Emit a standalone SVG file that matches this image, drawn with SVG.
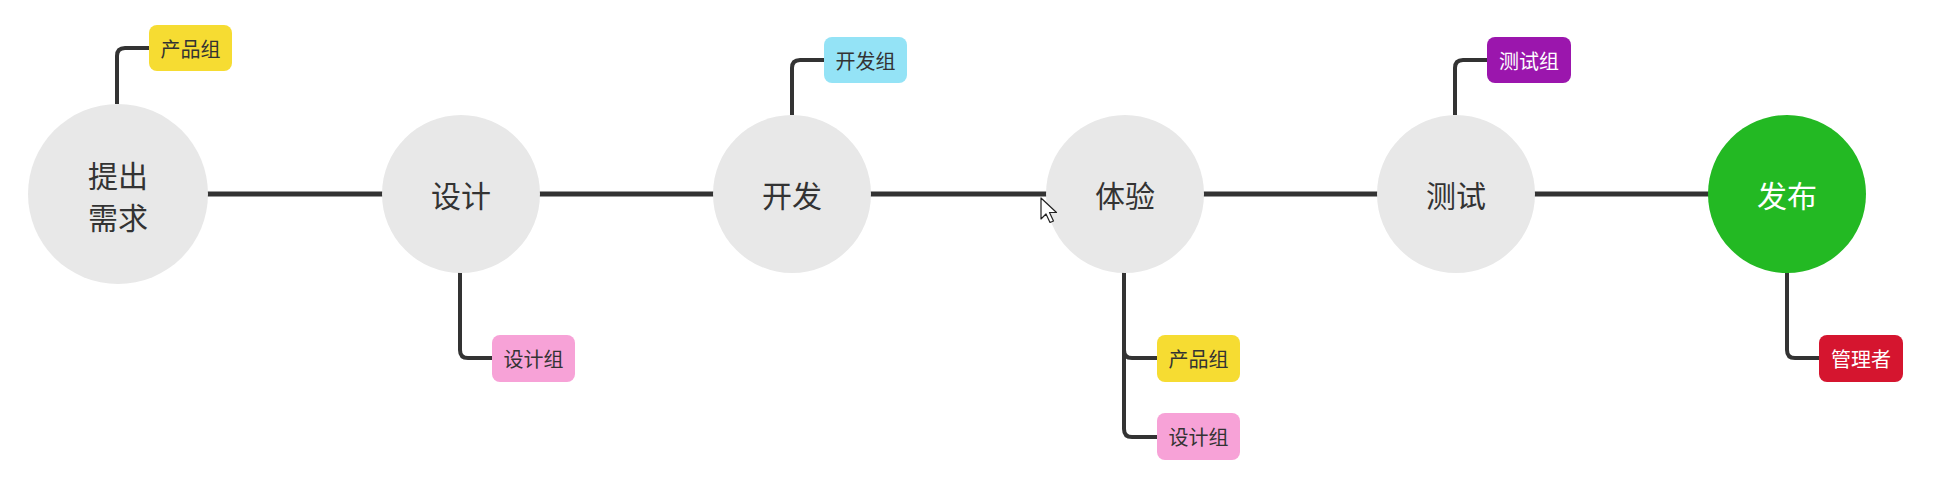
<svg xmlns="http://www.w3.org/2000/svg" width="1941" height="489" viewBox="0 0 1941 489">
  <style>
    .main { fill: #e8e8e8; }
    .main-t { font-family: "Noto Sans CJK SC", "Noto Sans", sans-serif; font-size: 30px; fill: #333333; text-anchor: middle; dominant-baseline: central; }
    .badge-t { font-family: "Noto Sans CJK SC", "Noto Sans", sans-serif; font-size: 20px; fill: #333333; text-anchor: middle; dominant-baseline: central; }
    .light { fill: #ffffff; }
    .spine { stroke: #333333; stroke-width: 5; fill: none; }
    .branch { stroke: #333333; stroke-width: 4; fill: none; stroke-linejoin: round; }
  </style>
  <rect width="1941" height="489" fill="#ffffff"/>

  <g id="connectors">
    <line class="spine" x1="200" y1="194" x2="1715" y2="194"/>
    <path class="branch" d="M117,104 V56 Q117,48 125,48 H150"/>
    <path class="branch" d="M792,115 V68 Q792,60 800,60 H825"/>
    <path class="branch" d="M1455,115 V68 Q1455,60 1463,60 H1488"/>
    <path class="branch" d="M460,272 V350 Q460,358 468,358 H493"/>
    <path class="branch" d="M1124,272 V429 Q1124,437 1132,437 H1158"/>
    <path class="branch" d="M1124,350 Q1124,358 1132,358 H1158"/>
    <path class="branch" d="M1787,272 V350 Q1787,358 1795,358 H1820"/>
  </g>

  <g id="node-tichu">
    <circle class="main" cx="118" cy="194" r="90"/>
    <text class="main-t" x="118" y="174">提出</text>
    <text class="main-t" x="118" y="216">需求</text>
  </g>
  <g id="node-sheji">
    <circle class="main" cx="461" cy="194" r="79"/>
    <text class="main-t" x="461" y="194">设计</text>
  </g>
  <g id="node-kaifa">
    <circle class="main" cx="792" cy="194" r="79"/>
    <text class="main-t" x="792" y="194">开发</text>
  </g>
  <g id="node-tiyan">
    <circle class="main" cx="1125" cy="194" r="79"/>
    <text class="main-t" x="1125" y="194">体验</text>
  </g>
  <g id="node-ceshi">
    <circle class="main" cx="1456" cy="194" r="79"/>
    <text class="main-t" x="1456" y="194">测试</text>
  </g>
  <g id="node-fabu">
    <circle cx="1787" cy="194" r="79" fill="#23b923"/>
    <text class="main-t light" x="1787" y="194">发布</text>
  </g>

  <g id="badge-chanpin-1">
    <rect x="149" y="25" width="83" height="46" rx="8" fill="#f6dc32"/>
    <text class="badge-t" x="190.5" y="48">产品组</text>
  </g>
  <g id="badge-sheji-1">
    <rect x="492" y="335" width="83" height="47" rx="8" fill="#f7a2d7"/>
    <text class="badge-t" x="533.5" y="358.5">设计组</text>
  </g>
  <g id="badge-kaifa">
    <rect x="824" y="37" width="83" height="46" rx="8" fill="#94e3f6"/>
    <text class="badge-t" x="865.5" y="60">开发组</text>
  </g>
  <g id="badge-chanpin-2">
    <rect x="1157" y="335" width="83" height="47" rx="8" fill="#f6dc32"/>
    <text class="badge-t" x="1198.5" y="358.5">产品组</text>
  </g>
  <g id="badge-sheji-2">
    <rect x="1157" y="413" width="83" height="47" rx="8" fill="#f7a2d7"/>
    <text class="badge-t" x="1198.5" y="436.5">设计组</text>
  </g>
  <g id="badge-ceshi">
    <rect x="1487" y="37" width="84" height="46" rx="8" fill="#9b16ad"/>
    <text class="badge-t light" x="1529" y="60">测试组</text>
  </g>
  <g id="badge-guanli">
    <rect x="1819" y="335" width="84" height="47" rx="8" fill="#d5152f"/>
    <text class="badge-t light" x="1861" y="358.5">管理者</text>
  </g>

  <g id="cursor">
    <path d="M1041,198 V219 L1046,214 L1050,222.5 L1053.5,221 L1049.5,212.5 L1056.5,212.5 Z" fill="#ffffff" stroke="#222222" stroke-width="1.2" stroke-linejoin="round"/>
  </g>
</svg>
